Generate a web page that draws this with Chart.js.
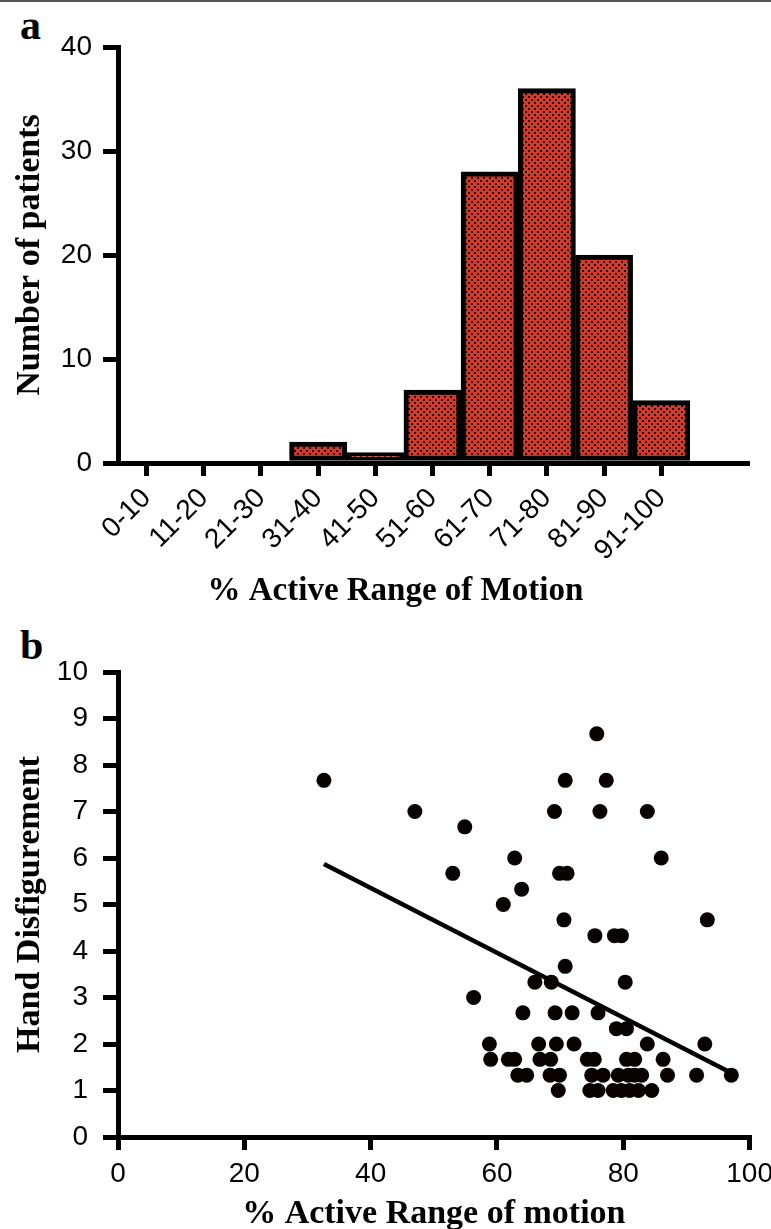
<!DOCTYPE html>
<html>
<head>
<meta charset="utf-8">
<script src="https://cdn.jsdelivr.net/npm/chart.js@4.4.1/dist/chart.umd.min.js"></script>
<style>
  body { margin: 0; width: 771px; height: 1229px; overflow: hidden; background: #fff; position: relative; }
  .topline { position: absolute; left: 0; top: 0; width: 771px; height: 2px; background: #555; }
  .panel { position: absolute; left: 20px; font: bold 42px "Liberation Serif", "Times New Roman", serif; line-height: 1; }
  .box { position: absolute; left: 0; }
</style>
</head>
<body>
<div class="topline"></div>
<div class="panel" style="top:4px">a</div>
<div class="panel" style="top:624px">b</div>
<div class="box" style="top:0"><canvas id="histo" width="771" height="615"></canvas></div>
<div class="box" style="top:615px"><canvas id="scatter" width="780" height="640"></canvas></div>
<script>
// panel a: histogram
const rangeLabels = ['0-10', '11-20', '21-30', '31-40', '41-50', '51-60', '61-70', '71-80', '81-90', '91-100', ''];
const patientCounts = [0, 0, 0, 2, 1, 7, 28, 36, 20, 6, null];
const countTicks = [0, 10, 20, 30, 40];

// panel b: scatter
const armX = [32.6, 47.0, 54.9, 53.0, 62.8, 63.9, 61.0, 56.3, 75.8,
  70.8, 77.3, 69.1, 76.3, 83.8, 86.0, 69.9, 71.1, 70.6, 93.3,
  75.5, 78.6, 79.7, 70.8, 66.0, 68.6, 80.3,
  64.1, 69.2, 71.9, 76.0, 78.9, 80.5,
  58.8, 66.6, 69.4, 72.2, 83.8, 92.9,
  59.0, 61.8, 62.8, 66.8, 68.5, 74.3, 75.4, 80.5, 81.8, 86.3,
  63.3, 64.7, 68.4, 69.9, 75.0, 76.8, 79.2, 80.8, 81.8, 82.9, 87.0, 91.6, 97.1,
  69.7, 74.7, 76.0, 78.4, 79.7, 81.0, 82.4, 84.5];
const disfigurement = [7.67, 7, 6.67, 5.67, 6, 5.33, 5, 3, 8.67,
  7.67, 7.67, 7, 7, 7, 6, 5.67, 5.67, 4.67, 4.67,
  4.33, 4.33, 4.33, 3.67, 3.33, 3.33, 3.33,
  2.67, 2.67, 2.67, 2.67, 2.33, 2.33,
  2, 2, 2, 2, 2, 2,
  1.67, 1.67, 1.67, 1.67, 1.67, 1.67, 1.67, 1.67, 1.67, 1.67,
  1.33, 1.33, 1.33, 1.33, 1.33, 1.33, 1.33, 1.33, 1.33, 1.33, 1.33, 1.33, 1.33,
  1, 1, 1, 1, 1, 1, 1, 1];
const fitLineX = [32.6, 97.5];
const fitLineY = [5.87, 1.35];

const tickFont = { family: '"Liberation Sans", Arial, sans-serif', size: 28 };
const titleFont = { family: '"Liberation Serif", "Times New Roman", serif', size: 34, weight: 'bold' };

// red cloth with black dots, like the printed hatch
function checker () {
  const c = document.createElement('canvas');
  c.width = 6; c.height = 6;
  const g = c.getContext('2d');
  g.fillStyle = '#d63a26';
  g.fillRect(0, 0, 6, 6);
  g.fillStyle = '#140403';
  g.fillRect(0, 0, 2, 2);
  g.fillRect(3, 3, 2, 2);
  return g.createPattern(c, 'repeat');
}

const axisGrid = (len) => ({ drawOnChartArea: false, lineWidth: 5, tickWidth: 5, tickLength: len, tickColor: '#000' });

new Chart(document.getElementById('histo'), {
  type: 'bar',
  data: {
    labels: rangeLabels,
    datasets: [{
      data: patientCounts,
      backgroundColor: checker(),
      borderColor: '#000',
      borderWidth: 5,
      borderSkipped: false,
      barPercentage: 1,
      categoryPercentage: 1
    }]
  },
  options: {
    responsive: false,
    animation: false,
    layout: { padding: { top: 47, right: 24, left: 0, bottom: 0 } },
    plugins: { legend: { display: false }, tooltip: { enabled: false } },
    scales: {
      x: {
        afterFit: s => { s.height = 152; },
        border: { color: '#000', width: 5 },
        grid: Object.assign(axisGrid(13), { offset: false, tickColor: c => c.index < 10 ? '#000' : 'rgba(0,0,0,0)' }),
        ticks: { color: '#000', font: tickFont, minRotation: 45, maxRotation: 45, autoSkip: false, padding: 6 },
        // trailing spaces pull the centred title left, as in the original
        title: { display: true, text: '% Active Range of Motion\u00a0\u00a0\u00a0\u00a0\u00a0\u00a0\u00a0\u00a0\u00a0', color: '#000', font: Object.assign({}, titleFont, { size: 33 }), padding: { bottom: 4 } }
      },
      y: {
        min: 0, max: 40,
        afterFit: s => { s.width = 118; },
        afterBuildTicks: s => { s.ticks = countTicks.map(v => ({ value: v })); },
        border: { color: '#000', width: 5 },
        grid: axisGrid(15),
        ticks: { color: '#000', font: tickFont, padding: 11 },
        title: { display: true, text: 'Number of patients', color: '#000', font: titleFont, padding: { top: 10 } }
      }
    }
  }
});

const points = armX.map((x, i) => ({ x: x, y: disfigurement[i] }));
const fitLine = fitLineX.map((x, i) => ({ x: x, y: fitLineY[i] }));

new Chart(document.getElementById('scatter'), {
  type: 'scatter',
  data: {
    datasets: [
      { data: points, backgroundColor: '#080300', borderWidth: 0, pointRadius: 7.5 },
      { type: 'line', data: fitLine, borderColor: '#000', borderWidth: 4.5, pointRadius: 0, fill: false }
    ]
  },
  options: {
    responsive: false,
    animation: false,
    layout: { padding: { top: 57, right: 30, left: 0, bottom: 0 } },
    plugins: { legend: { display: false }, tooltip: { enabled: false } },
    scales: {
      x: {
        type: 'linear', min: 0, max: 100,
        afterFit: s => { s.height = 118; },
        border: { color: '#000', width: 5 },
        grid: axisGrid(13),
        ticks: { color: '#000', font: tickFont, stepSize: 20, padding: 7 },
        title: { display: true, text: '% Active Range of motion', color: '#000', font: titleFont, padding: { bottom: 20 } }
      },
      y: {
        min: 0, max: 10,
        afterFit: s => { s.width = 118; },
        border: { color: '#000', width: 5 },
        grid: axisGrid(15),
        ticks: { color: '#000', font: tickFont, stepSize: 1, padding: 15 },
        title: { display: true, text: 'Hand Disfigurement', color: '#000', font: titleFont, padding: { top: 10 } }
      }
    }
  }
});
</script>
</body>
</html>
